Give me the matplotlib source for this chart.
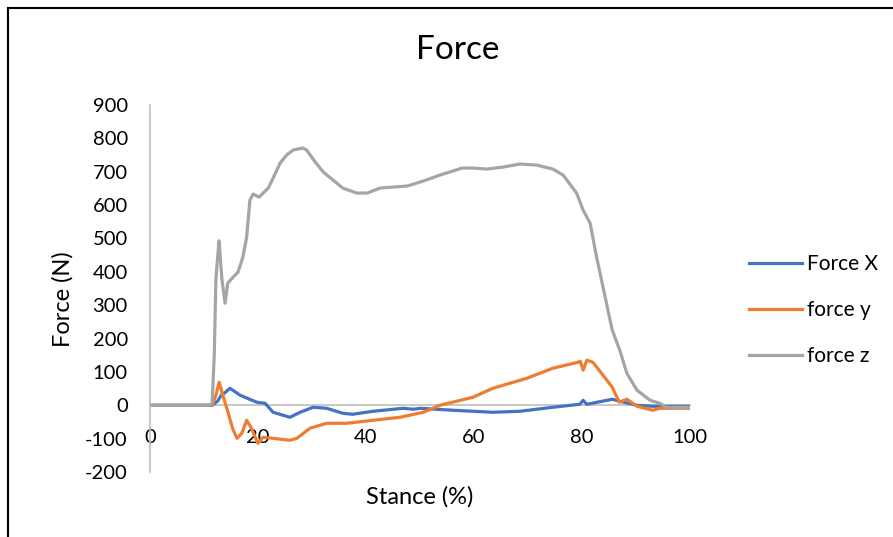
import matplotlib.pyplot as plt
from matplotlib.lines import Line2D

# Data
fx_x = [0, 11.5, 12.5, 13.2, 13.9, 14.8, 16.7, 19.8, 21.3, 22.8, 25.9, 27.8, 30.2, 32.7, 35.7, 37.5,
        41.3, 46.9, 48.8, 50, 56.2, 63.5, 68.5, 74.6, 79.6, 80.2, 80.9, 85.6, 87, 90.2, 93.1, 100]
fx_y = [0, 0, 12, 30, 38, 51, 30, 9, 6, -21, -36, -21, -6, -9, -24, -27,
        -18, -9, -12, -9, -15, -21, -18, -6, 3, 15, 3, 18, 12, 0, -3, -3]

fy_x = [0, 10, 11.5, 12.2, 12.8, 13.5, 14.5, 15.3, 16.1, 17.0, 17.9, 18.8, 20.0, 20.9, 22.8, 25.9,
        27.2, 29.6, 32.7, 36.4, 41.3, 46.3, 50.6, 53.7, 59.8, 63.5, 69.8, 74.6, 79.3, 79.7, 80.2,
        80.9, 82, 83.9, 85.6, 86.9, 88.3, 90.2, 93.1, 94.4, 100]
fy_y = [0, 0, 0, 30, 69, 30, -24, -70, -99, -84, -45, -69, -114, -96, -99, -105,
        -99, -69, -54, -54, -45, -36, -21, 0, 24, 51, 81, 111, 129, 132, 105,
        135, 129, 90, 54, 9, 18, -3, -15, -9, -9]

fz_x = [0, 5, 11.0, 11.5, 11.9, 12.2, 12.5, 12.8, 13.3, 13.9, 14.4, 15.4, 16.3, 17.2, 17.9, 18.5,
        19.1, 20.2, 21.9, 22.8, 24.1, 25.3, 26.5, 28.3, 29, 30.6, 32.1, 33.9, 35.7, 38.3, 40.2,
        42.6, 45, 47.6, 50.6, 53.7, 57.8, 59.8, 62.4, 65.4, 68.5, 71.6, 74.6, 76.5, 79, 80.2,
        81.5, 82.7, 83.9, 85.6, 87, 88.3, 90.2, 92.6, 94.4, 95.7, 100]
fz_y = [0, 0, 0, 6, 150, 375, 440, 493, 380, 306, 366, 384, 399, 444, 504, 615,
        633, 624, 651, 681, 726, 750, 765, 771, 765, 729, 699, 675, 651, 636, 636,
        651, 654, 657, 672, 690, 711, 711, 708, 714, 723, 720, 708, 690, 636, 585,
        546, 444, 354, 225, 165, 96, 45, 15, 6, -6, -6]

labels = ['Force X', 'force y', 'force z']
colors = ['#4472C4', '#ED7D31', '#A5A5A5']

plt.rcParams['font.family'] = ['Lato', 'DejaVu Sans']
plt.rcParams['axes.unicode_minus'] = False

fig = plt.figure(figsize=(8.93, 5.37), dpi=100)
ax = fig.add_axes([150/893, 65/537, 540/893, 367/537])

ax.plot(fx_x, fx_y, color=colors[0], lw=2.3, solid_joinstyle='round', label=labels[0])
ax.plot(fy_x, fy_y, color=colors[1], lw=2.3, solid_joinstyle='round', label=labels[1])
ax.plot(fz_x, fz_y, color=colors[2], lw=2.3, solid_joinstyle='round', label=labels[2])

ax.set_xlim(0, 100)
ax.set_ylim(-200, 900)
ax.set_xticks(range(0, 101, 20))
ax.set_yticks(range(-200, 901, 100))

for s in ['top', 'right']:
    ax.spines[s].set_visible(False)
ax.spines['bottom'].set_position(('data', 0))
ax.spines['bottom'].set_color('#BFBFBF')
ax.spines['left'].set_color('#BFBFBF')
ax.spines['bottom'].set_linewidth(1.2)
ax.spines['left'].set_linewidth(1.2)
ax.spines['bottom'].set_zorder(0)
ax.tick_params(axis='both', length=0, labelsize=14.5)
ax.tick_params(axis='x', pad=17)
ax.tick_params(axis='y', pad=16)

ax.set_xlabel('Stance (%)', fontsize=17)
ax.set_ylabel('Force (N)', fontsize=17)
ax.xaxis.set_label_coords(0.5, -0.037)
ax.yaxis.set_label_coords(-0.142, 0.47)

fig.text(458/893, 1 - 50/537, 'Force', fontsize=24, ha='center', va='center')

ax.legend(loc='center left', bbox_to_anchor=(749/893, 1 - 310/537), bbox_transform=fig.transFigure,
          frameon=False, fontsize=15, handlelength=2.55, handletextpad=0.25, labelspacing=1.25,
          borderpad=0, borderaxespad=0)

# chart border (cropped on right and bottom)
fig.add_artist(Line2D([7.5/893, 7.5/893], [0, 1 - 8/537], color='black', lw=1.5))
fig.add_artist(Line2D([7.5/893, 1], [1 - 8/537, 1 - 8/537], color='black', lw=1.5))

plt.savefig('out.png', dpi=100)
